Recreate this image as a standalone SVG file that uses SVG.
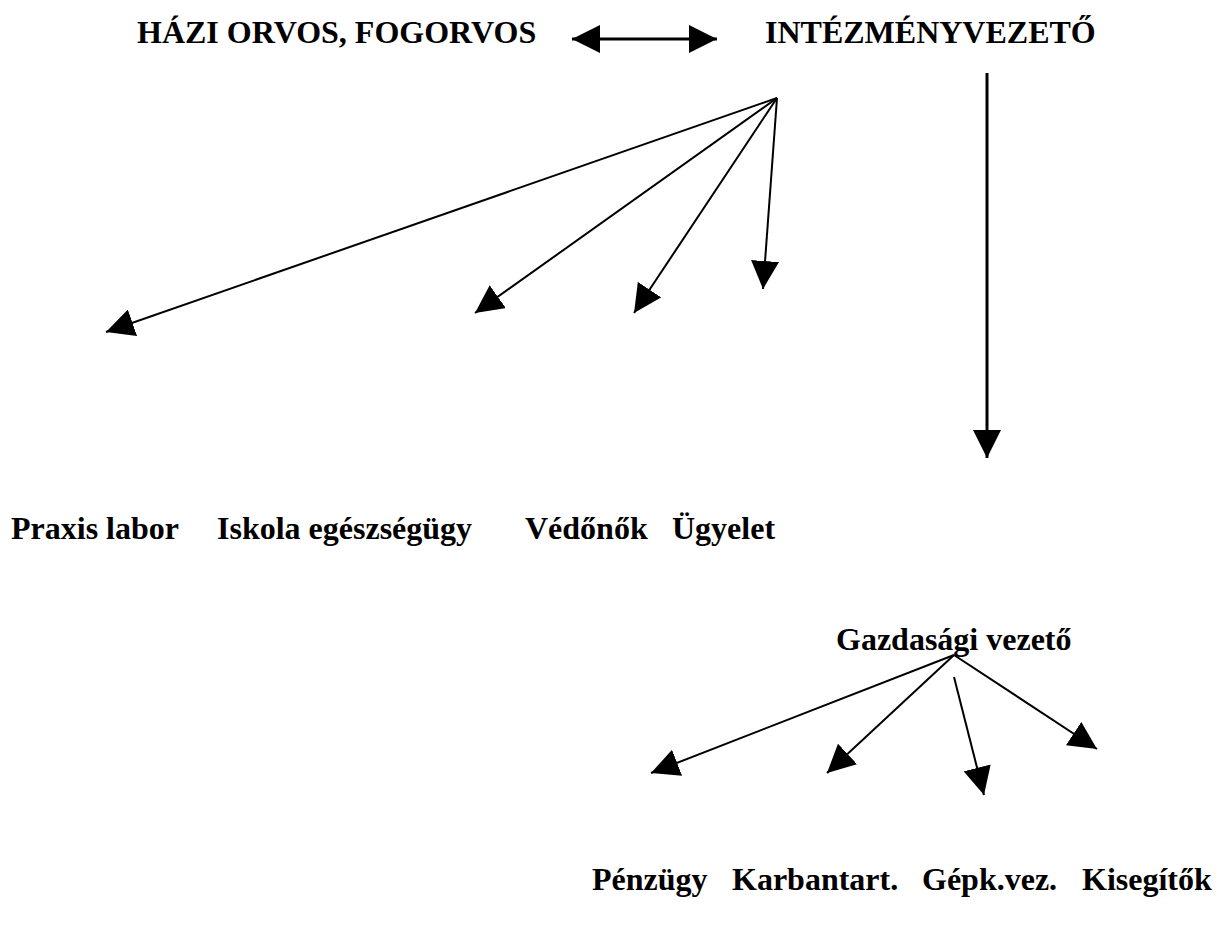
<svg xmlns="http://www.w3.org/2000/svg" width="1224" height="931" viewBox="0 0 1224 931">
<style>
text{font-family:"Liberation Serif","Times New Roman",serif;font-weight:bold;fill:#000;font-size:32px}
.ln{stroke:#000;fill:none}
.thick{stroke-width:3}
.thin{stroke-width:2}
</style>
<defs>
<marker id="ah" viewBox="0 0 28 28" refX="28" refY="14" markerWidth="28" markerHeight="28" markerUnits="userSpaceOnUse" orient="auto-start-reverse">
<path d="M0,0 L28,14 L0,28 Z" fill="#000"/>
</marker>
</defs>
<rect width="1224" height="931" fill="#fff"/>
<g id="haziorvos"><text x="137" y="43">HÁZI ORVOS, FOGORVOS</text></g>
<g id="intezmenyvezeto"><text x="765" y="43">INTÉZMÉNYVEZETŐ</text></g>
<g id="praxislabor"><text x="11" y="539">Praxis labor</text></g>
<g id="iskola"><text x="217" y="539">Iskola egészségügy</text></g>
<g id="vedonok"><text x="525" y="539">Védőnők</text></g>
<g id="ugyelet"><text x="672" y="539">Ügyelet</text></g>
<g id="gazdasagi"><text x="836" y="650">Gazdasági vezető</text></g>
<g id="penzugy"><text x="592" y="890">Pénzügy</text></g>
<g id="karbantart"><text x="732" y="890">Karbantart.</text></g>
<g id="gepkvez"><text x="922" y="890">Gépk.vez.</text></g>
<g id="kisegitok"><text x="1082" y="890">Kisegítők</text></g>
<g id="connectors">
<line class="ln thick" x1="572" y1="39" x2="717" y2="39" marker-start="url(#ah)" marker-end="url(#ah)"/>
<line class="ln thick" x1="987" y1="73" x2="987" y2="458" marker-end="url(#ah)"/>
<line class="ln thin" x1="777" y1="98" x2="106" y2="332" marker-end="url(#ah)"/>
<line class="ln thin" x1="777" y1="98" x2="475" y2="313" marker-end="url(#ah)"/>
<line class="ln thin" x1="777" y1="98" x2="634" y2="313" marker-end="url(#ah)"/>
<line class="ln thin" x1="777" y1="98" x2="763" y2="289" marker-end="url(#ah)"/>
<line class="ln thin" x1="954" y1="655" x2="651" y2="773" marker-end="url(#ah)"/>
<line class="ln thin" x1="954" y1="655" x2="827" y2="773" marker-end="url(#ah)"/>
<line class="ln thin" x1="954" y1="677" x2="984" y2="795" marker-end="url(#ah)"/>
<line class="ln thin" x1="954" y1="655" x2="1097" y2="749" marker-end="url(#ah)"/>
</g>
</svg>
